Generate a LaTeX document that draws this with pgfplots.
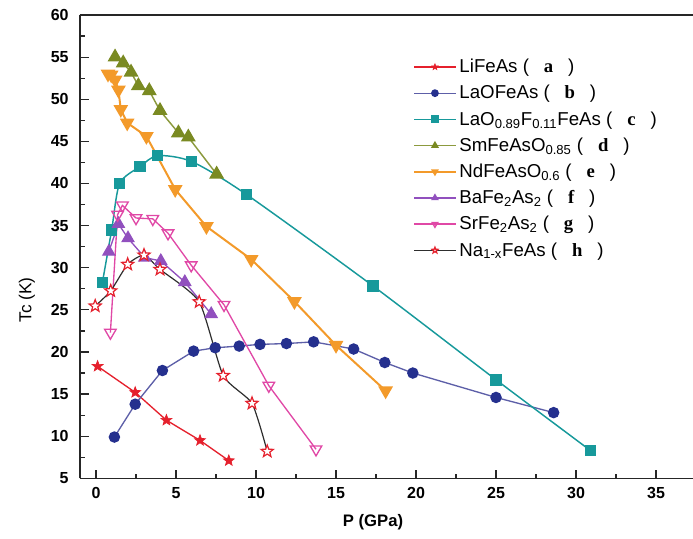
\documentclass[border=0pt]{standalone}
\usepackage{fontspec}
\setmainfont{Liberation Sans}
\newfontfamily\tnr{Liberation Serif}
\usepackage{pgfplots}
\pgfplotsset{compat=1.18}
\usetikzlibrary{plotmarks}

\definecolor{cA}{HTML}{E5202C}
\definecolor{cBl}{HTML}{5D5FA8}
\definecolor{cBm}{HTML}{25308E}
\definecolor{cC}{HTML}{17999B}
\definecolor{cDl}{HTML}{8C9A3E}
\definecolor{cDm}{HTML}{7A8A22}
\definecolor{cE}{HTML}{F39A2A}
\definecolor{cF}{HTML}{9150BE}
\definecolor{cG}{HTML}{E048A6}
\definecolor{cH}{HTML}{2E2E2E}

% five-pointed star, filled and stroked
\pgfdeclareplotmark{pstar}{%
  \pgfpathmoveto{\pgfpointpolar{90}{\pgfplotmarksize}}%
  \pgfpathlineto{\pgfpointpolar{126}{0.42\pgfplotmarksize}}%
  \pgfpathlineto{\pgfpointpolar{162}{\pgfplotmarksize}}%
  \pgfpathlineto{\pgfpointpolar{198}{0.42\pgfplotmarksize}}%
  \pgfpathlineto{\pgfpointpolar{234}{\pgfplotmarksize}}%
  \pgfpathlineto{\pgfpointpolar{270}{0.42\pgfplotmarksize}}%
  \pgfpathlineto{\pgfpointpolar{306}{\pgfplotmarksize}}%
  \pgfpathlineto{\pgfpointpolar{342}{0.42\pgfplotmarksize}}%
  \pgfpathlineto{\pgfpointpolar{18}{\pgfplotmarksize}}%
  \pgfpathlineto{\pgfpointpolar{54}{0.42\pgfplotmarksize}}%
  \pgfpathclose
  \pgfusepathqfillstroke}

\newcommand{\lt}[1]{\hspace{0.8em}{\tnr\bfseries #1}\hspace{0.8em}}

\begin{document}
\begin{tikzpicture}
% page = 693 x 538 px at 0.75pt per px; axis lower left at px (80,478)
\path[use as bounding box] (-60pt,-44.8pt) rectangle (459.75pt,358.75pt);
\begin{axis}[
  at={(0,0)},anchor=south west,
  scale only axis,width=459.75pt,height=347.5pt,
  xmin=-1,xmax=37.31,ymin=5,ymax=60,
  axis x line*=box,axis y line*=left,
  axis line style={line width=1pt,black!85},
  xtick={0,5,...,35},ytick={5,10,...,60},
  minor x tick num=1,minor y tick num=1,
  xtick pos=bottom,ytick pos=left,
  tick align=inside,
  major tick length=6.5pt,minor tick length=3.5pt,
  every tick/.style={line width=0.9pt,black!85},
  ticklabel style={font=\fontsize{12}{14}\selectfont\bfseries},
  /pgf/number format/assume math mode=true,
  xticklabel style={yshift=-3pt},
  yticklabel style={xshift=-5pt},
  xlabel={P (GPa)},
  xlabel style={font=\fontsize{12.5}{15}\selectfont\bfseries,at={(axis description cs:0.478,-0.094)},anchor=center},
  ylabel={Tc (K)},
  ylabel style={font=\fontsize{13}{15}\selectfont,at={(axis description cs:-0.0865,0.385)},anchor=center,rotate=0},
  legend style={at={(axis cs:19.8,55.1)},anchor=north west,draw=none,fill=none,
    font=\fontsize{14}{16}\selectfont,row sep=4pt,inner sep=0pt,
    cells={anchor=west}},
  legend image code/.code={\draw[mark repeat=2,mark phase=2,#1,mark size=2.4pt]
    plot coordinates {(0cm,0cm) (0.55cm,0cm) (1.1cm,0cm)};},
]
\addplot[cA,line width=1pt,mark=pstar,mark size=4.3pt,mark options={fill=cA,line width=0.5pt}]
 coordinates {(0.1,18.3) (2.45,15.2) (4.4,11.9) (6.5,9.5) (8.3,7.1)};
\addlegendentry{LiFeAs (\lt{a})}

\addplot[cBl,line width=1pt,mark=*,mark size=3.8pt,mark options={cBm,fill=cBm}]
 coordinates {(1.15,9.9) (2.45,13.8) (4.15,17.8) (6.1,20.1) (7.45,20.5) (8.95,20.7)
 (10.25,20.9) (11.9,21.0) (13.6,21.2) (16.1,20.35) (18.05,18.75) (19.8,17.5)
 (25.0,14.6) (28.6,12.8)};
\addlegendentry{LaOFeAs (\lt{b})}

\addplot[cC,line width=1.1pt,smooth,tension=0.45,mark=square*,mark size=3.8pt,mark options={fill=cC}]
 coordinates {(0.4,28.25) (0.98,34.5) (1.48,40.0) (2.75,42.0) (3.85,43.3) (5.98,42.6)
 (9.4,38.7) (17.3,27.85) (25.0,16.7) (30.9,8.3)};
\addlegendentry{LaO\textsubscript{0.89}F\textsubscript{0.11}FeAs (\lt{c})}

\addplot[cDl,line width=1.1pt,mark=triangle*,mark size=5.4pt,mark options={cDm,fill=cDm}]
 coordinates {(1.19,55.0) (1.7,54.3) (2.19,53.2) (2.65,51.6) (3.33,51.0) (4.0,48.65)
 (5.15,46.0) (5.77,45.5) (7.54,41.1)};
\addlegendentry{SmFeAsO\textsubscript{0.85} (\lt{d})}

\addplot[cE,line width=1.5pt,mark=triangle*,mark size=5.4pt,mark options={rotate=180,fill=cE,line width=1pt}]
 coordinates {(0.75,53.0) (0.95,52.9) (1.2,52.3) (1.4,51.1) (1.55,48.8) (1.95,47.2)
 (3.15,45.6) (4.95,39.3) (6.9,34.9) (9.7,31.0) (12.4,26.0) (15.0,20.8) (18.1,15.4)};
\addlegendentry{NdFeAsO\textsubscript{0.6} (\lt{e})}

\addplot[cF,line width=1pt,mark=triangle*,mark size=5pt,mark options={fill=cF}]
 coordinates {(0.8,31.9) (1.4,35.2) (2.0,33.5) (3.05,31.2) (4.05,30.8) (5.55,28.3) (7.2,24.5)};
\addlegendentry{BaFe\textsubscript{2}As\textsubscript{2} (\lt{f})}

\addplot[cG,line width=1pt,mark=triangle,mark size=5pt,mark options={rotate=180,fill=white,line width=1pt}]
 coordinates {(0.9,22.3) (1.35,36.3) (1.65,37.4) (2.5,35.9) (3.55,35.8) (4.5,34.1)
 (5.95,30.3) (8.0,25.6) (10.8,16.0) (13.75,8.45)};
\addlegendentry{SrFe\textsubscript{2}As\textsubscript{2} (\lt{g})}

\addplot[cH,line width=0.9pt,smooth,tension=0.35,mark=pstar,mark size=4.8pt,
  mark options={draw=cA,fill=white,line width=0.9pt}]
 coordinates {(-0.05,25.45) (0.92,27.25) (1.98,30.4) (3.0,31.5) (4.0,29.8)
 (6.45,25.95) (7.95,17.2) (9.75,13.9) (10.7,8.2)};
\addlegendentry{Na\textsubscript{1-x}FeAs (\lt{h})}
\end{axis}
\end{tikzpicture}
\end{document}
